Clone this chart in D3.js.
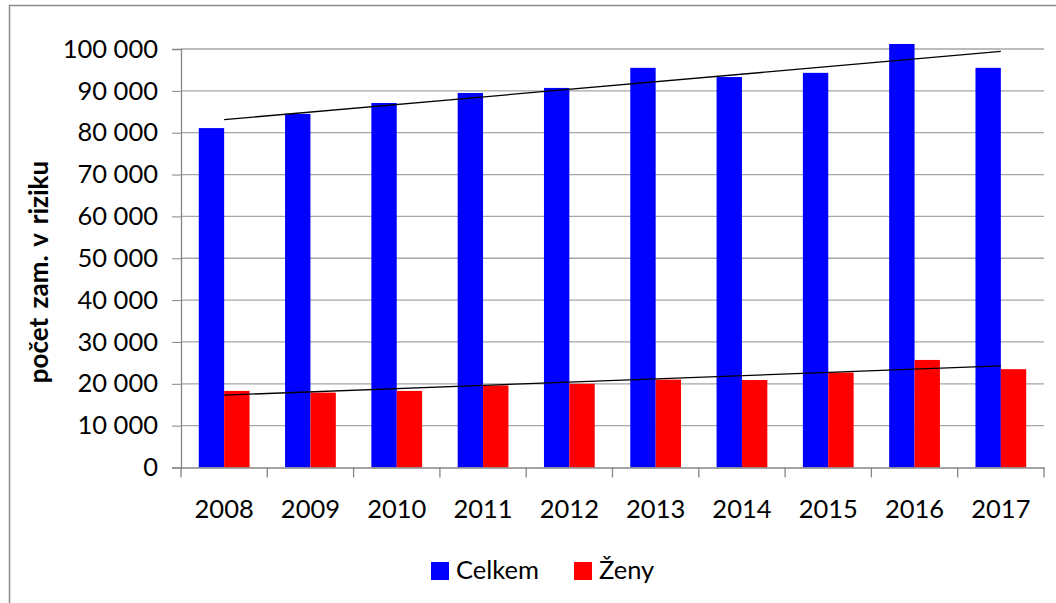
<!DOCTYPE html>
<html>
<head>
<meta charset="utf-8">
<script src="https://cdn.jsdelivr.net/npm/d3@7"></script>
<style>
  body { margin: 0; background: #fff; }
  text { font-family: Lato, "Open Sans", sans-serif; fill: #000; }
</style>
</head>
<body>
<div id="chart"></div>
<script>
var years = ["2008", "2009", "2010", "2011", "2012", "2013", "2014", "2015", "2016", "2017"];
var celkem = [81100, 84500, 87100, 89500, 90700, 95500, 93300, 94300, 101200, 95500];
var zeny = [18300, 17900, 18300, 19600, 20000, 21000, 20900, 22700, 25700, 23500];
var seriesNames = ["Celkem", "Ženy"];
var seriesColors = ["#0000ff", "#ff0000"];
var yTicks = [0, 10000, 20000, 30000, 40000, 50000, 60000, 70000, 80000, 90000, 100000];

var W = 1056, H = 603;
var plot = {left: 181, right: 1044, top: 49, bottom: 467.5};

var svg = d3.select("#chart").append("svg")
    .attr("width", W)
    .attr("height", H);

// outer chart border (cut off at right / bottom)
svg.append("path")
    .attr("d", "M9.5," + H + " V5.5 H" + W)
    .attr("fill", "none")
    .attr("stroke", "#8c8c8c")
    .attr("stroke-width", 1.5);

var x0 = d3.scaleBand().domain(years).range([plot.left, plot.right]);
var x1 = d3.scaleBand().domain(seriesNames).range([0, x0.bandwidth()]).paddingOuter(0.7);
var y = d3.scaleLinear().domain([0, 100000]).range([plot.bottom, plot.top]);

var fmt = function(v) { return d3.format(",")(v).replace(/,/g, " "); };

// gridlines
svg.append("g").selectAll("line")
    .data(yTicks.slice(1))
    .enter().append("line")
    .attr("x1", plot.left).attr("x2", plot.right)
    .attr("y1", d => y(d)).attr("y2", d => y(d))
    .attr("stroke", "#a6a6a6")
    .attr("stroke-width", 1.3);

// y axis
var yAxis = svg.append("g")
    .attr("transform", "translate(" + plot.left + ",0)")
    .call(d3.axisLeft(y).tickValues(yTicks).tickFormat(fmt).tickSize(9).tickPadding(14));
yAxis.select(".domain").attr("stroke", "#868686").attr("stroke-width", 1.3);
yAxis.selectAll(".tick line").attr("stroke", "#868686");
yAxis.selectAll("text").attr("font-size", 25.5).attr("font-family", "Lato");

// bars
var data = years.map(function(yr, i) { return {year: yr, values: [celkem[i], zeny[i]]}; });
var groups = svg.append("g").selectAll("g")
    .data(data)
    .enter().append("g")
    .attr("transform", d => "translate(" + x0(d.year) + ",0)");
groups.selectAll("rect")
    .data(d => d.values.map((v, j) => ({name: seriesNames[j], value: v, color: seriesColors[j]})))
    .enter().append("rect")
    .attr("x", d => x1(d.name))
    .attr("width", x1.bandwidth())
    .attr("y", d => y(d.value))
    .attr("height", d => y(0) - y(d.value))
    .attr("fill", d => d.color);

// x axis
var xAxis = svg.append("g")
    .attr("transform", "translate(0," + plot.bottom + ")")
    .call(d3.axisBottom(x0).tickSize(0).tickPadding(32));
xAxis.select(".domain").attr("stroke", "#868686").attr("stroke-width", 1.3);
xAxis.selectAll("text").attr("font-size", 25.5).attr("font-family", "Lato");
// category boundary ticks
xAxis.append("g").selectAll("line")
    .data(years.map(d => x0(d)).concat([plot.right]))
    .enter().append("line")
    .attr("x1", d => d).attr("x2", d => d)
    .attr("y1", 0).attr("y2", 10)
    .attr("stroke", "#868686")
    .attr("stroke-width", 1.3);

// linear trendlines
function trend(values) {
  var n = values.length;
  var xs = d3.range(n);
  var mx = d3.mean(xs), my = d3.mean(values);
  var sxy = d3.sum(xs, (xi, i) => (xi - mx) * (values[i] - my));
  var sxx = d3.sum(xs, xi => (xi - mx) * (xi - mx));
  var b = sxy / sxx, a = my - b * mx;
  return [[0, a], [n - 1, a + b * (n - 1)]];
}
var line = d3.line()
    .x(d => x0(years[d[0]]) + x0.bandwidth() / 2)
    .y(d => y(d[1]));
[celkem, zeny].forEach(function(vals) {
  svg.append("path")
      .attr("d", line(trend(vals)))
      .attr("fill", "none")
      .attr("stroke", "#000")
      .attr("stroke-width", 1.3);
});

// y axis title
svg.append("text")
    .attr("transform", "translate(48,272) rotate(-90)")
    .attr("text-anchor", "middle")
    .attr("font-size", 26)
    .attr("font-weight", "bold")
    .attr("word-spacing", 3)
    .text("počet zam. v riziku");

// legend
var legend = svg.append("g");
var legendX = [431, 574];
seriesNames.forEach(function(name, i) {
  legend.append("rect")
      .attr("x", legendX[i]).attr("y", 562)
      .attr("width", 18).attr("height", 18)
      .attr("fill", seriesColors[i]);
  legend.append("text")
      .attr("x", legendX[i] + 25).attr("y", 579)
      .attr("font-size", 25.5)
      .text(name);
});
</script>
</body>
</html>
